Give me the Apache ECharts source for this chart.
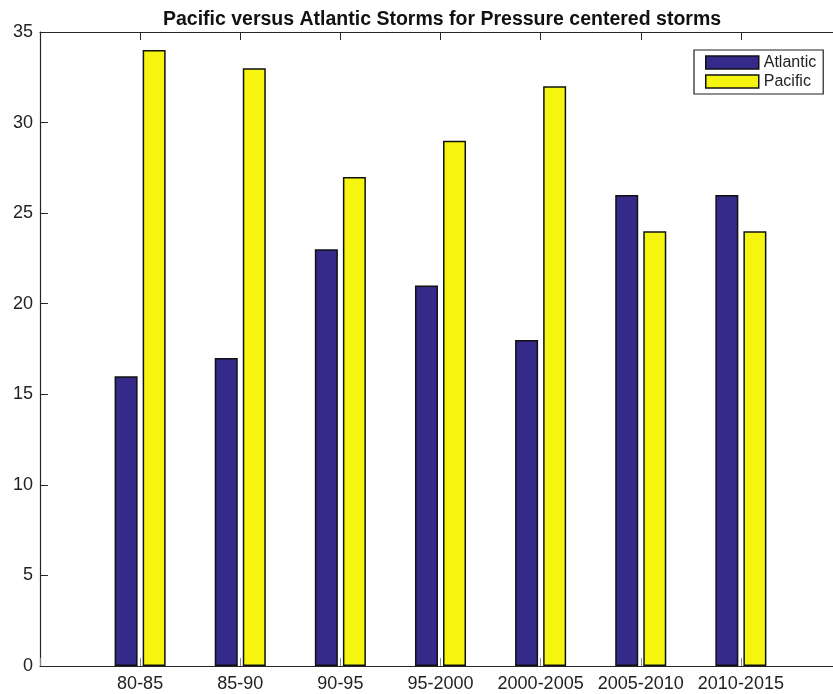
<!DOCTYPE html>
<html>
<head>
<meta charset="utf-8">
<script src="https://cdn.jsdelivr.net/npm/echarts@6/dist/echarts.min.js"></script>
<style>html,body{margin:0;padding:0;background:#fff;overflow:hidden}#c{width:844px;height:694px}</style>
</head>
<body>
<div id="c"></div>
<script>
var categories = ['80-85', '85-90', '90-95', '95-2000', '2000-2005', '2005-2010', '2010-2015'];
var atlantic = [16, 17, 23, 21, 18, 26, 26];
var pacific = [34, 33, 27, 29, 32, 24, 24];
var yTicks = { min: 0, max: 35, interval: 5 };

// pad one empty slot on each side (MATLAB-style x range 0..8)
var cats = [''].concat(categories, ['']);
function pad(a) { return ['-'].concat(a, ['-']); }

var font = 'Liberation Sans, Arial, Helvetica, sans-serif';
var axisColor = '#262626';

var chart = echarts.init(document.getElementById('c'), null, { renderer: 'canvas' });
chart.setOption({
  animation: false,
  backgroundColor: '#fff',
  title: {
    text: 'Pacific versus Atlantic Storms for Pressure centered storms',
    left: 437, top: 5, textAlign: 'center',
    textStyle: { fontFamily: font, fontSize: 19.5, fontWeight: 'bold', color: '#111' }
  },
  legend: {
    orient: 'vertical', left: 694, top: 50, icon: 'rect',
    padding: [4, 7, 4, 11], itemWidth: 53, itemHeight: 13, itemGap: 2,
    borderColor: '#222', borderWidth: 1.2, backgroundColor: '#fff',
    textStyle: { fontFamily: font, fontSize: 16, color: '#222', lineHeight: 17 },
    itemStyle: { borderColor: '#111', borderWidth: 1.5 },
    data: ['Atlantic', 'Pacific']
  },
  grid: { left: 40, right: 0, top: 32, bottom: 28, containLabel: false },
  xAxis: [{
    type: 'category', data: cats, boundaryGap: false, position: 'bottom',
    axisLine: { onZero: false, lineStyle: { color: axisColor, width: 1.2 } },
    axisTick: { inside: true, length: 8, interval: 0, lineStyle: { color: '#888' } },
    axisLabel: { fontFamily: font, fontSize: 18, color: '#222', margin: 9, interval: 0 },
    splitLine: { show: false }
  }, {
    type: 'category', data: cats, boundaryGap: false, position: 'top',
    axisLine: { onZero: false, lineStyle: { color: axisColor, width: 1.2 } },
    axisTick: { inside: true, length: 8, interval: 0, lineStyle: { color: axisColor } },
    axisLabel: { show: false }, splitLine: { show: false }
  }],
  yAxis: [{
    type: 'value', min: yTicks.min, max: yTicks.max, interval: yTicks.interval, position: 'left',
    axisLine: { show: true, onZero: false, lineStyle: { color: axisColor, width: 1.2 } },
    axisTick: { show: true, inside: true, length: 8, lineStyle: { color: axisColor } },
    axisLabel: { fontFamily: font, fontSize: 18, color: '#222', margin: 7 },
    splitLine: { show: false }
  }, {
    type: 'value', min: yTicks.min, max: yTicks.max, interval: yTicks.interval, position: 'right',
    axisLine: { show: true, onZero: false, lineStyle: { color: axisColor, width: 1.2 } },
    axisTick: { show: true, inside: true, length: 8, lineStyle: { color: '#aaa' } },
    axisLabel: { show: false }, splitLine: { show: false }
  }],
  series: [{
    name: 'Atlantic', type: 'bar', data: pad(atlantic), barWidth: 23, barGap: '22%',
    itemStyle: { color: '#35298a', borderColor: '#111', borderWidth: 1.5 }
  }, {
    name: 'Pacific', type: 'bar', data: pad(pacific), barWidth: 23, barGap: '22%',
    itemStyle: { color: '#f5f510', borderColor: '#111', borderWidth: 1.5 }
  }]
});
</script>
</body>
</html>
